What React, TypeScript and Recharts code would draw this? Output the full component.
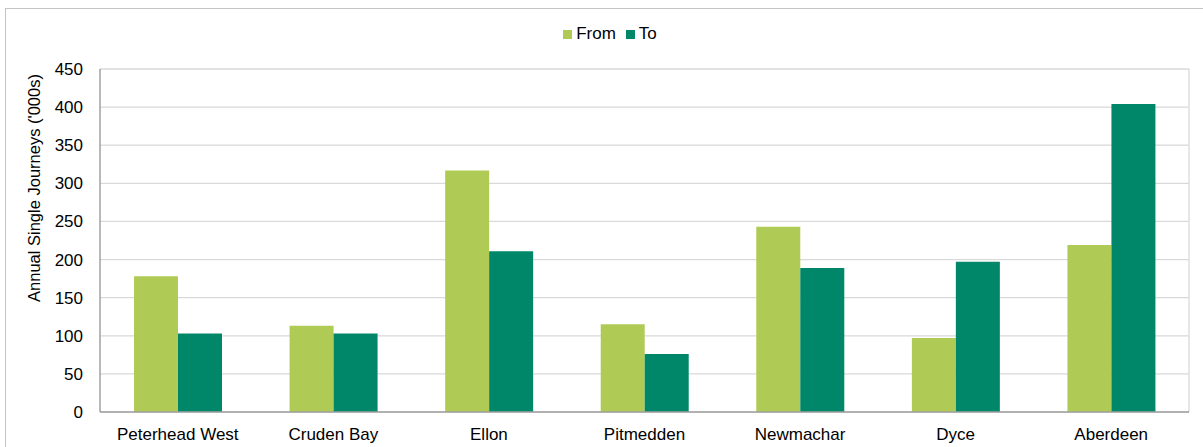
import { Bar, BarChart, CartesianGrid, Legend, XAxis, YAxis } from 'recharts';

const stations = ['Peterhead West', 'Cruden Bay', 'Ellon', 'Pitmedden', 'Newmachar', 'Dyce', 'Aberdeen'];
const fromJourneys = [178, 113, 317, 115, 243, 97, 219];
const toJourneys = [103, 103, 211, 76, 189, 197, 404];
const yTicks = [0, 50, 100, 150, 200, 250, 300, 350, 400, 450];

const data = stations.map((name, i) => ({ name, from: fromJourneys[i], to: toJourneys[i] }));

const font = '"Liberation Sans", Arial, sans-serif';
const tickStyle = { fontFamily: font, fontSize: 17, fill: '#000' };

// rotated axis title, drawn in the svg
const YLabel = () => (
    <text
        x={34}
        y={188}
        transform='rotate(-90, 34, 188)'
        textAnchor='middle'
        dominantBaseline='central'
        style={{ fontFamily: font, fontSize: 16.5, fill: '#000' }}
    >
        Annual Single Journeys ('000s)
    </text>
);

export default function App() {
    return (
        <div
            style={{
                position: 'fixed',
                left: 0,
                top: 0,
                width: 1203,
                height: 447,
                overflow: 'hidden',
                background: '#fff',
                fontFamily: font
            }}
        >
            <div
                style={{
                    position: 'absolute',
                    left: 5,
                    top: 8,
                    width: 1210,
                    height: 460,
                    border: '1px solid #c4c4c4'
                }}
            />
            <div style={{ position: 'absolute', left: 0, top: 0 }}>
                <BarChart
                    width={1203}
                    height={447}
                    data={data}
                    margin={{ top: 69, right: 14, bottom: 0, left: 0 }}
                    barGap={0}
                >
                    <CartesianGrid
                        stroke='#d9d9d9'
                        strokeWidth={1.3}
                        vertical={true}
                        verticalPoints={[1189]}
                    />
                    <XAxis
                        dataKey='name'
                        height={35}
                        tickLine={false}
                        tickSize={0}
                        tickMargin={16}
                        axisLine={{ stroke: '#a0a0a0', strokeWidth: 1.5 }}
                        tick={tickStyle}
                        interval={0}
                    />
                    <YAxis
                        width={100}
                        domain={[0, 450]}
                        ticks={yTicks}
                        tickLine={false}
                        tickSize={0}
                        tickMargin={17}
                        axisLine={{ stroke: '#a0a0a0', strokeWidth: 1.5 }}
                        tick={tickStyle}
                        label={<YLabel />}
                    />
                    <Legend
                        verticalAlign='middle'
                        align='center'
                        iconType='square'
                        iconSize={9}
                        wrapperStyle={{ top: 24, left: 0, width: 1230, fontSize: 17, color: '#000' }}
                        formatter={(value) => <span style={{ color: '#000' }}>{value}</span>}
                    />
                    <Bar dataKey='from' name='From' fill='#b0cb55' barSize={44} isAnimationActive={false} />
                    <Bar dataKey='to' name='To' fill='#00876a' barSize={44} isAnimationActive={false} />
                </BarChart>
            </div>
        </div>
    );
}
